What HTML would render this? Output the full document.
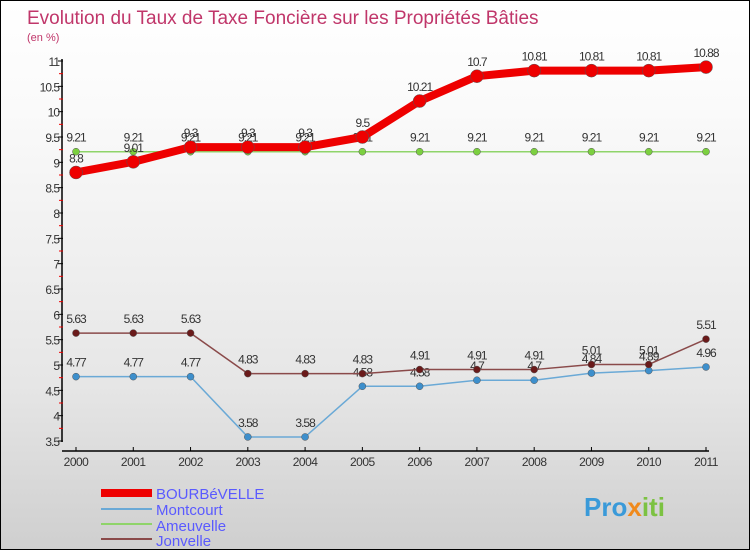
<!DOCTYPE html>
<html><head><meta charset="utf-8"><style>
body{margin:0}
#c{position:relative;width:748px;height:548px;border:1px solid #000;background:linear-gradient(#fff,#fafafa 20%,#e6e6e6 70%,#cfcfcf);font-family:"Liberation Sans",sans-serif;overflow:hidden}
</style></head><body>
<div id="c">
<svg id="s" width="748" height="548">
<text x="26" y="23" font-size="19" fill="#c0366a">Evolution du Taux de Taxe Foncière sur les Propriétés Bâties</text>
<text x="26" y="40" font-size="11" fill="#c0366a">(en %)</text>
<g id="ax"></g><g id="ser"></g>
<g>
<rect x="100" y="488" width="51" height="8" fill="#e00"/>
<text x="155" y="498" font-size="15" fill="#5a5aff">BOURBéVELLE</text>
<line x1="100" y1="508" x2="151" y2="508" stroke="#6aa9d6" stroke-width="2"/>
<text x="155" y="514" font-size="15" fill="#5a5aff">Montcourt</text>
<line x1="100" y1="523" x2="151" y2="523" stroke="#8fd46a" stroke-width="2"/>
<text x="155" y="530" font-size="15" fill="#5a5aff">Ameuvelle</text>
<line x1="100" y1="538" x2="151" y2="538" stroke="#8a4a4a" stroke-width="2"/>
<text x="155" y="545" font-size="15" fill="#5a5aff">Jonvelle</text>
</g>
<text x="583" y="515" font-size="26" font-weight="bold" fill="#3a9ad9">Pro<tspan fill="#f08a1c">x</tspan><tspan fill="#7cc242">iti</tspan></text>
</svg>
</div>
<script>
const years=[2000,2001,2002,2003,2004,2005,2006,2007,2008,2009,2010,2011];
const yTicks=[3.5,4,4.5,5,5.5,6,6.5,7,7.5,8,8.5,9,9.5,10,10.5,11];
const bourbevelle=[8.8,9.01,9.3,9.3,9.3,9.5,10.21,10.7,10.81,10.81,10.81,10.88];
const montcourt=[4.77,4.77,4.77,3.58,3.58,4.58,4.58,4.7,4.7,4.84,4.89,4.96];
const ameuvelle=[9.21,9.21,9.21,9.21,9.21,9.21,9.21,9.21,9.21,9.21,9.21,9.21];
const jonvelle=[5.63,5.63,5.63,4.83,4.83,4.83,4.91,4.91,4.91,5.01,5.01,5.51];
const NS="http://www.w3.org/2000/svg";
const X=i=>75+i*(630/(years.length-1));
const Y=v=>60+(11-v)*(380/7.5);
function mk(t,a,p){const e=document.createElementNS(NS,t);for(const k in a)e.setAttribute(k,a[k]);p.appendChild(e);return e;}
const ax=document.getElementById('ax'),ser=document.getElementById('ser');
const yl=mk('line',{x1:61,y1:58,x2:61,y2:441,stroke:'#000','stroke-width':1.5},ax);


const xl=mk('line',{x1:61,y1:450,x2:708,y2:450,stroke:'#000','stroke-width':1.5},ax);


yTicks.forEach(v=>{
  mk('line',{x1:57,y1:Y(v),x2:62,y2:Y(v),stroke:'#000'},ax);
  if(v<11)mk('line',{x1:58,y1:Y(v+0.25),x2:62,y2:Y(v+0.25),stroke:'#e00'},ax);
  const t=mk('text',{x:58,y:Y(v)+5,'font-size':12,'text-anchor':'end',fill:'#333','letter-spacing':'-1'},ax);
  t.textContent=v;
  
  
});
years.forEach((y,i)=>{
  mk('line',{x1:X(i),y1:446,x2:X(i),y2:450,stroke:'#000'},ax);
  const t=mk('text',{x:X(i),y:465,'font-size':12,'text-anchor':'middle',fill:'#333','letter-spacing':'-0.5'},ax);
  t.textContent=y;
  
  
});
function series(d,name,col,w,r,dot){
  const g=mk('g',{},ser);
  
  
  mk('polyline',{points:d.map((v,i)=>X(i)+','+Y(v)).join(' '),fill:'none',stroke:col,'stroke-width':w,'stroke-linejoin':'round'},g);
  d.forEach((v,i)=>{
    const c=mk('circle',{cx:X(i),cy:Y(v),r:r,fill:dot,stroke:'#555','stroke-width':0.5},g);
    
    
    const t=mk('text',{x:X(i),y:Y(v)-10,'font-size':12,'text-anchor':'middle',fill:'#333','letter-spacing':'-1'},g);
    t.textContent=v;
    
    
  });
}
series(montcourt,'montcourt','#6aa9d6',1.5,3.5,'#3d8fcc');
series(jonvelle,'jonvelle','#8a4a4a',1.5,3.5,'#6a1a1a');
series(ameuvelle,'ameuvelle','#8fd46a',1.5,3.5,'#7cd040');
series(bourbevelle,'bourbevelle','#e00',8,6.5,'#e00');
</script>
</body></html>
